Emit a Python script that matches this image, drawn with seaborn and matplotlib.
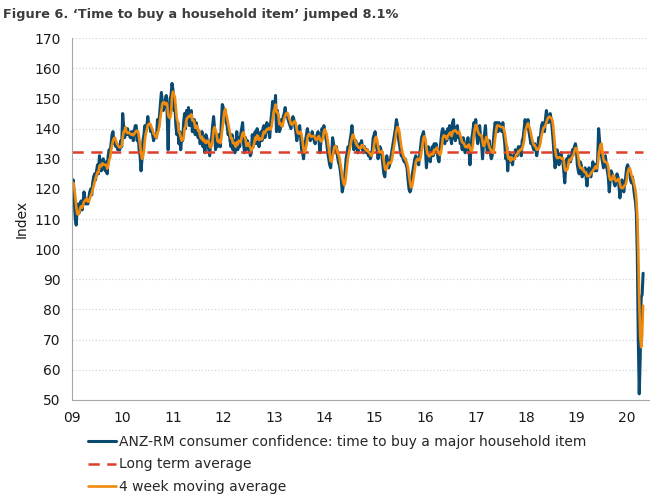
import pandas as pd
import matplotlib
matplotlib.use('Agg')
import matplotlib.pyplot as plt
import matplotlib.dates as mdates
import seaborn as sns

# Weekly readings of the index, one list per calendar year (Sunday weeks)
y2009 = [121, 123, 116, 110, 108, 113, 115, 112, 114, 116, 113, 115, 119, 117, 115, 116,
         115, 117, 119, 120, 118, 122, 124, 125, 123, 126, 128, 125, 131, 128, 126, 129,
         130, 127, 126, 129, 125, 131, 133, 132, 135, 138, 139, 135, 136, 134, 135, 133,
         134, 133, 136, 134]
y2010 = [145, 141, 137, 139, 138, 140, 138, 138, 137, 139, 139, 136, 139, 141, 141, 136,
         138, 133, 131, 126, 130, 136, 138, 141, 139, 141, 144, 141, 141, 139, 140, 138,
         136, 138, 137, 137, 143, 140, 144, 148, 152, 149, 146, 148, 149, 151, 145, 133,
         146, 150, 151, 155]
y2011 = [153, 146, 148, 141, 138, 142, 135, 139, 133, 137, 136, 142, 145, 140, 146, 143,
         147, 141, 145, 146, 139, 141, 143, 138, 142, 140, 137, 139, 135, 136, 139, 134,
         137, 132, 138, 137, 135, 133, 131, 136, 137, 141, 144, 140, 133, 137, 134, 138,
         135, 134, 142, 148]
y2012 = [147, 145, 146, 142, 141, 138, 139, 136, 134, 138, 133, 136, 132, 135, 139, 133,
         137, 134, 138, 140, 142, 135, 132, 137, 133, 136, 135, 133, 131, 132, 138, 134,
         137, 139, 135, 140, 136, 134, 137, 139, 136, 140, 141, 137, 139, 142, 141, 139,
         137, 142, 145, 149, 146]
y2013 = [146, 151, 139, 146, 142, 139, 140, 143, 141, 144, 145, 147, 144, 145, 143, 142,
         141, 140, 142, 144, 143, 141, 139, 136, 138, 140, 141, 137, 133, 132, 130, 134,
         136, 138, 140, 138, 137, 136, 138, 139, 137, 136, 135, 137, 138, 139, 136, 132,
         136, 140, 139, 141]
y2014 = [139, 137, 135, 132, 130, 128, 127, 131, 137, 135, 133, 132, 134, 131, 129, 128,
         126, 123, 119, 121, 122, 126, 130, 132, 134, 133, 136, 138, 141, 137, 133, 135,
         136, 134, 132, 133, 135, 134, 136, 133, 132, 134, 133, 132, 133, 131, 132, 130,
         131, 133, 137, 138]
y2015 = [139, 135, 133, 130, 132, 134, 133, 131, 128, 125, 124, 128, 131, 129, 127, 128,
         130, 132, 134, 136, 138, 140, 143, 141, 137, 135, 133, 131, 131, 130, 129, 130,
         128, 127, 123, 120, 119, 120, 124, 126, 128, 130, 131, 130, 129, 128, 131, 134,
         137, 138, 139, 136]
y2016 = [133, 127, 131, 134, 131, 129, 132, 134, 131, 135, 132, 135, 133, 130, 129, 133,
         136, 139, 140, 136, 135, 139, 136, 140, 137, 141, 137, 135, 142, 143, 137, 136,
         140, 141, 137, 138, 135, 136, 133, 137, 134, 132, 133, 136, 137, 133, 128, 133,
         137, 139, 142, 141]
y2017 = [143, 138, 135, 138, 141, 137, 135, 130, 135, 138, 141, 135, 132, 133, 136, 132,
         130, 131, 135, 139, 142, 141, 142, 139, 142, 140, 141, 139, 142, 138, 135, 130,
         134, 126, 130, 132, 129, 131, 128, 131, 130, 133, 132, 131, 134, 133, 134, 131,
         136, 137, 140, 143, 140]
y2018 = [141, 143, 139, 137, 135, 136, 134, 133, 135, 133, 131, 133, 137, 135, 138, 141,
         142, 140, 139, 143, 146, 144, 142, 144, 145, 143, 140, 136, 131, 127, 130, 133,
         131, 128, 130, 132, 130, 129, 126, 122, 127, 130, 128, 131, 130, 129, 131, 133,
         132, 134, 135, 133]
y2019 = [128, 126, 125, 129, 128, 124, 126, 125, 127, 124, 121, 125, 127, 125, 124, 126,
         129, 127, 126, 128, 126, 130, 140, 136, 133, 131, 129, 127, 129, 131, 128, 126,
         124, 119, 123, 126, 125, 124, 122, 121, 123, 125, 124, 121, 117, 120, 123, 121,
         119, 122, 124, 127]
y2020 = [128, 127, 126, 123, 122, 124, 121, 118, 116, 112, 98, 70, 52, 64, 84, 85, 92]

long_term_avg = 132.3
y_ticks = list(range(50, 171, 10))

labels = ['ANZ-RM consumer confidence: time to buy a major household item',
          'Long term average',
          '4 week moving average']

index_values = (y2009 + y2010 + y2011 + y2012 + y2013 + y2014 + y2015 + y2016 +
                y2017 + y2018 + y2019 + y2020)
dates = pd.date_range('2009-01-04', periods=len(index_values), freq='W-SUN')
df = pd.DataFrame({'date': dates, 'index': index_values})
df['ma4'] = df['index'].rolling(4, min_periods=1).mean()
df['avg'] = long_term_avg

sns.set_style('white')
plt.rcParams['font.family'] = ['DejaVu Sans']

fig = plt.figure(figsize=(6.6, 5.03), dpi=100)
ax = fig.add_axes([0.109, 0.205, 0.874, 0.719])

sns.lineplot(data=df, x='date', y='index', color='#0b4a70', lw=2.2, ax=ax, label=labels[0])
sns.lineplot(data=df, x='date', y='avg', color='#dd3f2a', lw=1.8, ax=ax, label=labels[1],
             linestyle=(0, (4.5, 3)))
sns.lineplot(data=df, x='date', y='ma4', color='#f08a0c', lw=1.9, ax=ax, label=labels[2])

ax.set_ylim(50, 170)
ax.set_yticks(y_ticks)
ax.set_xlim(pd.Timestamp('2009-01-01'), pd.Timestamp('2020-06-06'))
ax.xaxis.set_major_locator(mdates.YearLocator())
ax.xaxis.set_major_formatter(mdates.DateFormatter('%y'))

ax.yaxis.grid(True, color='#cdd8df', linestyle=':', lw=0.9)
ax.xaxis.grid(False)
for side in ['top', 'right']:
    ax.spines[side].set_visible(False)
for side in ['left', 'bottom']:
    ax.spines[side].set_color('#a6a6a6')
ax.tick_params(axis='both', direction='out', length=4, width=0.8, color='#a6a6a6',
               labelsize=10, labelcolor='#1a1a1a', pad=4)
ax.set_xlabel('')
ax.set_ylabel('Index', fontsize=10, color='#1a1a1a', labelpad=4)

handles, leg_labels = ax.get_legend_handles_labels()
ax.get_legend().remove()
fig.legend(handles, leg_labels, loc='upper left', bbox_to_anchor=(0.133, 0.135),
           frameon=False, fontsize=10, handlelength=2.0, handletextpad=0.25,
           labelspacing=0.6, borderpad=0, borderaxespad=0)

fig.text(0.005, 0.985, 'Figure 6. \u2018Time to buy a household item\u2019 jumped 8.1%',
         fontsize=9.3, fontweight='bold', color='#3c3c3c', va='top', ha='left')

fig.savefig('out.png', dpi=100)
